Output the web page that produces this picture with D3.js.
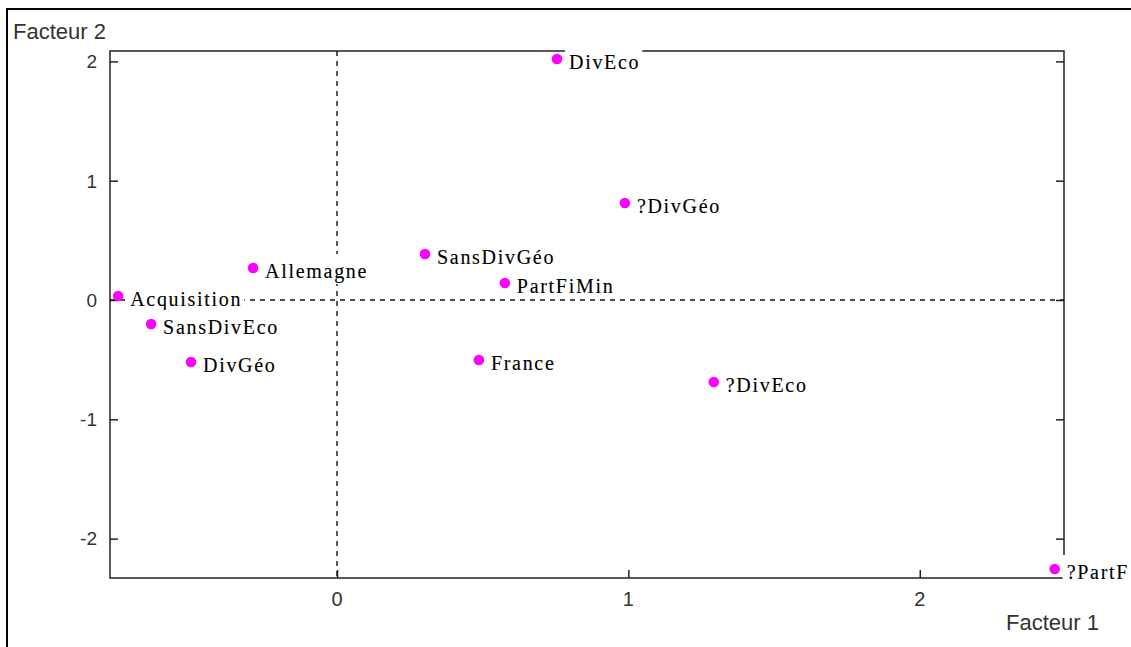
<!DOCTYPE html>
<html>
<head>
<meta charset="utf-8">
<script src="https://cdn.jsdelivr.net/npm/d3@7"></script>
<style>
  html, body { margin: 0; padding: 0; background: #fff; }
  svg { display: block; }
</style>
</head>
<body>
<script>
// Factor map: coordinates of each modality on factors 1 and 2
const labels  = ["DivEco", "?DivGéo", "SansDivGéo", "Allemagne", "PartFiMin", "Acquisition",
                 "SansDivEco", "DivGéo", "France", "?DivEco", "?PartF"];
const factor1 = [0.755, 0.988, 0.302, -0.288, 0.576, -0.751, -0.638, -0.501, 0.487, 1.293, 2.463];
const factor2 = [2.02, 0.813, 0.386, 0.268, 0.142, 0.034, -0.201, -0.52, -0.503, -0.687, -2.255];
const xTicks = [0, 1, 2];
const yTicks = [-2, -1, 0, 1, 2];
const xTitle = "Facteur 1";
const yTitle = "Facteur 2";

const W = 1131, H = 647;
const box = { left: 110, right: 1064, top: 51, bottom: 578 };

const x = d3.scaleLinear().domain([-0.779, 2.495]).range([box.left, box.right]);
const y = d3.scaleLinear().domain([-2.33, 2.087]).range([box.bottom, box.top]);

const svg = d3.select("body").append("svg").attr("width", W).attr("height", H);

// outer frame (left and top edges)
svg.append("path")
  .attr("d", `M7,${H} L7,9 L${W},9`)
  .attr("fill", "none").attr("stroke", "#000").attr("stroke-width", 2);

// plot box
svg.append("rect")
  .attr("x", box.left).attr("y", box.top)
  .attr("width", box.right - box.left).attr("height", box.bottom - box.top)
  .attr("fill", "none").attr("stroke", "#222").attr("stroke-width", 1.5);

// dashed reference axes through the origin
svg.append("line")
  .attr("x1", x(0)).attr("x2", x(0)).attr("y1", box.top).attr("y2", box.bottom)
  .attr("stroke", "#111").attr("stroke-width", 1.4).attr("stroke-dasharray", "5,5");
svg.append("line")
  .attr("x1", box.left).attr("x2", box.right).attr("y1", y(0)).attr("y2", y(0))
  .attr("stroke", "#111").attr("stroke-width", 1.4).attr("stroke-dasharray", "5,5");

// inward ticks via d3 axes
const tickStyle = g => {
  g.select(".domain").remove();
  g.selectAll(".tick line").attr("stroke", "#222").attr("stroke-width", 1.5);
  g.selectAll(".tick text").remove();
};
svg.append("g").attr("transform", `translate(${box.left},0)`)
  .call(d3.axisRight(y).tickValues(yTicks).tickSize(8)).call(tickStyle);
svg.append("g").attr("transform", `translate(${box.right},0)`)
  .call(d3.axisLeft(y).tickValues(yTicks).tickSize(8)).call(tickStyle);
svg.append("g").attr("transform", `translate(0,${box.bottom})`)
  .call(d3.axisTop(x).tickValues(xTicks).tickSize(8)).call(tickStyle);

// tick labels
const sans = "'Liberation Sans', Arial, sans-serif";
svg.append("g").selectAll("text").data(yTicks).join("text")
  .attr("x", 97).attr("y", d => y(d)).attr("dy", "0.36em")
  .attr("text-anchor", "end").attr("font-family", sans).attr("font-size", 19)
  .attr("fill", "#333").text(d => d);
svg.append("g").selectAll("text").data(xTicks).join("text")
  .attr("x", d => x(d)).attr("y", 606)
  .attr("text-anchor", "middle").attr("font-family", sans).attr("font-size", 20)
  .attr("fill", "#333").text(d => d);

// axis titles
svg.append("text").attr("x", 13).attr("y", 39)
  .attr("font-family", sans).attr("font-size", 22).attr("fill", "#333").text(yTitle);
svg.append("text").attr("x", 1006).attr("y", 630)
  .attr("font-family", sans).attr("font-size", 22).attr("fill", "#333").text(xTitle);

// point labels with white backing
const pts = labels.map((l, i) => ({ label: l, f1: factor1[i], f2: factor2[i] }));
const lab = svg.append("g").selectAll("g").data(pts).join("g")
  .attr("transform", d => `translate(${x(d.f1) + 12},${y(d.f2) + 10})`);
lab.append("text")
  .attr("font-family", "'Liberation Serif', 'Times New Roman', serif")
  .attr("font-size", 20).attr("letter-spacing", 1.7).attr("fill", "#000")
  .attr("stroke", "#000").attr("stroke-width", 0.12)
  .text(d => d.label)
  .each(function () {
    const b = this.getBBox();
    d3.select(this.parentNode).insert("rect", "text")
      .attr("x", b.x - 4).attr("y", -24).attr("width", b.width + 6).attr("height", 30)
      .attr("fill", "#fff");
  });

// points
svg.append("g").selectAll("circle").data(pts).join("circle")
  .attr("cx", d => x(d.f1)).attr("cy", d => y(d.f2)).attr("r", 5.3)
  .attr("fill", "#ff00ff");
</script>
</body>
</html>
